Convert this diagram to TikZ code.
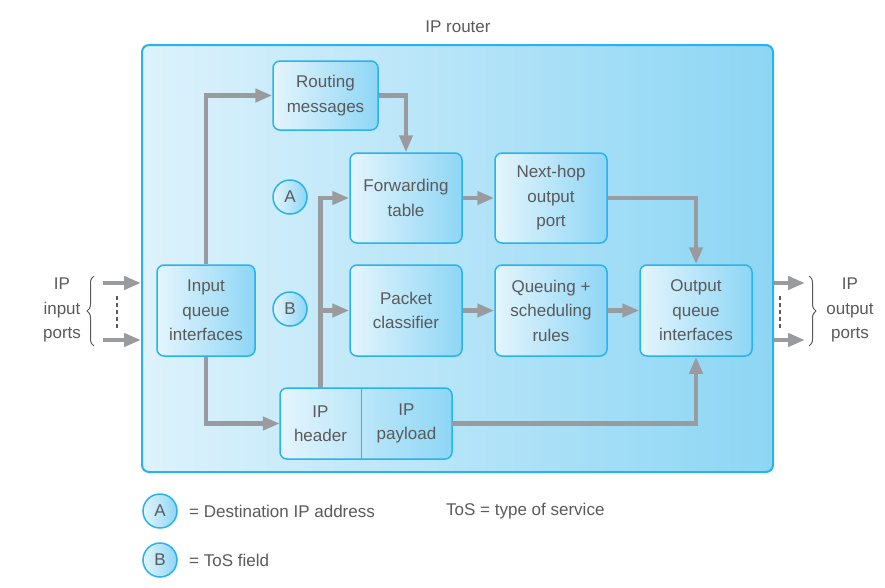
\documentclass[tikz,border=0pt]{standalone}
\usepackage{fontspec}
\setmainfont{Liberation Sans}
\usetikzlibrary{arrows.meta,decorations.pathreplacing}
\definecolor{bord}{HTML}{26B3EF}
\definecolor{boxL}{HTML}{E4F5FD}
\definecolor{boxR}{HTML}{8ED6F5}
\definecolor{outL}{HTML}{DDF2FC}
\definecolor{outR}{HTML}{8DD6F4}
\definecolor{arrg}{HTML}{9A9B9E}
\definecolor{txt}{HTML}{5A5A5A}
\newcommand\figfont{\fontsize{17}{24.5}\selectfont}
\begin{document}
\begin{tikzpicture}[x=1pt,y=-1pt,
  box/.style={draw=bord, line width=1.5pt, rounded corners=7pt, left color=boxL, right color=boxR,
              align=center, text=txt, font=\figfont, inner sep=0pt},
  outer/.style={draw=bord, line width=2pt, rounded corners=7pt, left color=outL, right color=outR, inner sep=0pt},
  arr/.style={draw=arrg, line width=4.5pt, -{Triangle[length=17pt,width=13pt]}},
  lbl/.style={text=txt, font=\figfont, align=center, inner sep=0pt},
  circ/.style={circle, draw=bord, line width=1.5pt, left color=boxL, right color=boxR,
               minimum size=34pt, inner sep=0pt, text=txt, font=\figfont},
  dash line/.style={draw=txt, line width=1.1pt, dash pattern=on 4pt off 3pt},
  brc/.style={draw=txt, line width=1pt, decorate, decoration={brace, amplitude=7pt}}]
\useasboundingbox (0,0) rectangle (885,587);

% outer router box
\node[outer, minimum width=631pt, minimum height=427pt] (rt) at (457.5,258.5) {};
\node[lbl] (ttl) at (458,27) {IP router};

% boxes
\node[box, minimum width=105pt, minimum height=69pt] (rm) at (325.5,95.5) {Routing\\messages};
\node[box, minimum width=112pt, minimum height=90pt] (ft) at (406,198) {Forwarding\\table};
\node[box, minimum width=112pt, minimum height=90pt] (nh) at (551,198) {Next-hop\\output\\port};
\node[box, minimum width=98pt, minimum height=91pt] (iq) at (206,310.5) {Input\\queue\\interfaces};
\node[box, minimum width=112pt, minimum height=91pt] (pc) at (406,310.5) {Packet\\classifier};
\node[box, minimum width=112pt, minimum height=91pt] (qs) at (551,310.5) {Queuing +\\scheduling\\rules};
\node[box, minimum width=112pt, minimum height=91pt] (oq) at (696,310.5) {Output\\queue\\interfaces};

% IP header / payload
\draw[draw=bord, line width=1.5pt, rounded corners=7pt, left color=boxL, right color=boxR] (280,388) rectangle (452,459);
\node[lbl, minimum width=81pt, minimum height=71pt] (hdr) at (320.5,423.5) {IP\\header};
\node[lbl, minimum width=91pt, minimum height=71pt] (pay) at (406.5,423.5) {IP\\payload};
\draw[bord, line width=1.2pt] (hdr.north east) -- (hdr.south east);

% A / B markers
\node[circ] (ca) at (290,197) {A};
\node[circ] (cb) at (290,309) {B};

% internal arrows
\draw[arr] (iq.north) |- (rm.west);
\draw[arr] (rm.east) -| (ft.north);
\draw[arr] (iq.south) |- (hdr.west);
\draw[arr] (hdr.north) |- (ft.west);
\draw[arr] (hdr.north |- pc.west) -- (pc.west);
\draw[arr] (ft.east) -- (nh.west);
\draw[arr] (nh.east) -| (oq.north);
\draw[arr] (pc.east) -- (qs.west);
\draw[arr] (qs.east) -- (oq.west);
\draw[arr] (pay.east) -| (oq.south);

% input ports
\coordinate (i1) at (103,283);
\coordinate (i2) at (103,340);
\draw[arr] (i1) -- (i1 -| rt.west);
\draw[arr] (i2) -- (i2 -| rt.west);
\coordinate (id1) at (117,296);
\coordinate (id2) at (117,330);
\draw[dash line] (id1) -- (id2);
\coordinate (ib1) at (94,346);
\coordinate (ib2) at (94,276);
\draw[brc] (ib1) -- (ib2);
\node[lbl] (inp) at (62,310) {IP\\input\\ports};

% output ports
\coordinate (o1) at (rt.east |- i1);
\coordinate (o2) at (rt.east |- i2);
\coordinate (o1e) at (805,283);
\coordinate (o2e) at (805,340);
\draw[arr] (o1) -- (o1e);
\draw[arr] (o2) -- (o2e);
\coordinate (od1) at (780,296);
\coordinate (od2) at (780,330);
\draw[dash line] (od1) -- (od2);
\coordinate (ob1) at (809,276);
\coordinate (ob2) at (809,346);
\draw[brc] (ob1) -- (ob2);
\node[lbl] (outp) at (850,310) {IP\\output\\ports};

% legend
\node[circ] (la) at (160,511) {A};
\node[circ] (lb) at (160,560) {B};
\node[lbl, anchor=west] (lat) at (189,511) {= Destination IP address};
\node[lbl, anchor=west] (tos) at (446,511) {ToS = type of service};
\node[lbl, anchor=west] (lbt) at (189,560) {= ToS field};
\end{tikzpicture}
\end{document}
